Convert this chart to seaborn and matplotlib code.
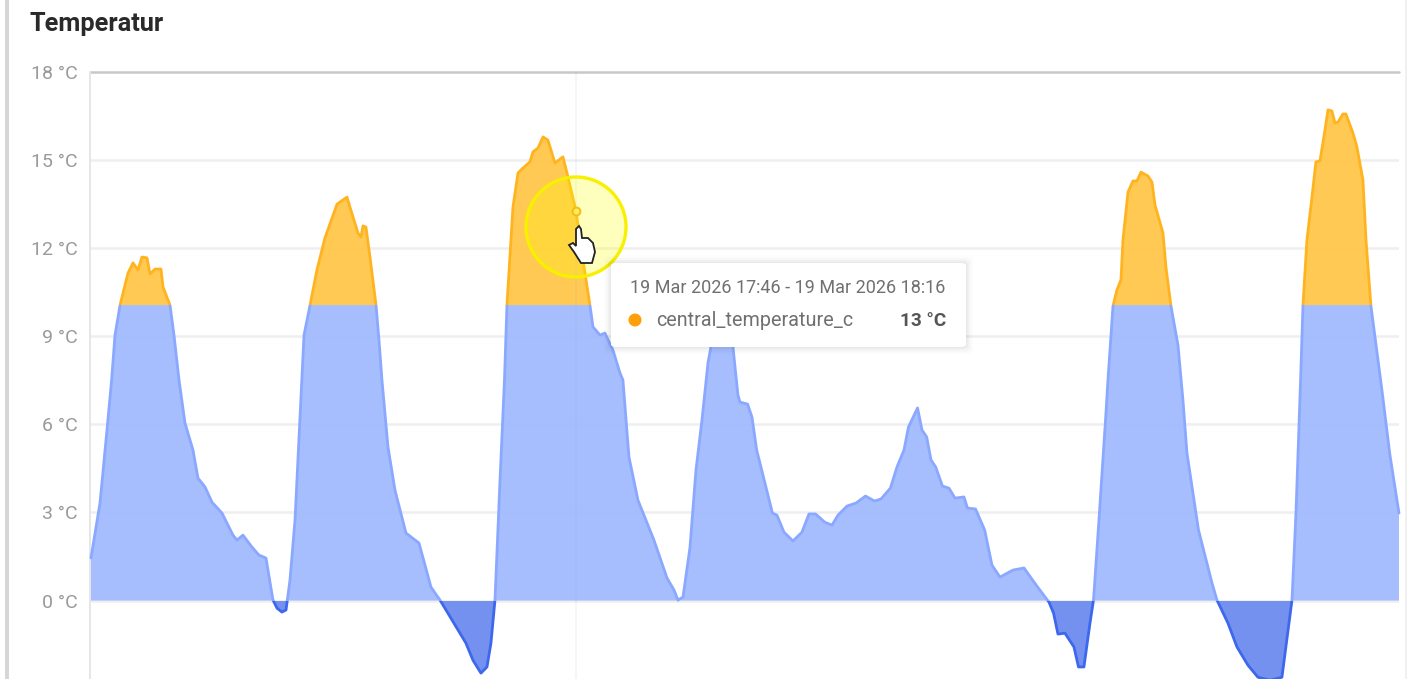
import numpy as np
import pandas as pd
import matplotlib
matplotlib.use("Agg")
import matplotlib.pyplot as plt
from matplotlib.patches import Rectangle, FancyBboxPatch, Ellipse, Polygon
import seaborn as sns

# hours since 17 Mar 2026 07:00
hours = [
    0, 1.09, 1.94, 2.5, 2.91, 3.52, 4.48, 5.09, 5.7, 6.18, 6.79, 7.15, 7.76, 8.48, 8.73, 9.58,
    10.06, 10.67, 11.39, 12.36, 12.97, 13.82, 14.67, 15.88, 17.21, 17.7, 18.42, 19.52, 20.36, 21.21,
    22.06, 22.55, 23.15, 23.64, 24.12, 24.73, 25.45, 25.82, 26.55, 27.39, 28.36, 29.82, 31.03, 31.39,
    32.36, 32.73, 32.97, 33.33, 33.82, 34.55, 34.91, 35.27, 36.0, 36.85, 38.18, 39.76, 41.21, 42.3,
    43.03, 45.45, 46.3, 47.27, 48.0, 48.48, 48.97, 49.58, 50.12, 50.42, 51.15, 51.76, 52.24, 53.21,
    53.58, 54.18, 54.79, 55.39, 56.24, 57.21, 57.82, 58.79, 59.64, 60.48, 60.85, 61.7, 62.3, 63.27,
    64.12, 64.48, 65.21, 66.3, 68.24, 69.82, 70.67, 71.15, 71.76, 72.61, 73.33, 74.06, 74.79, 75.52,
    76.48, 77.21, 77.82, 78.42, 78.67, 79.59, 80.12, 80.69, 82.3, 82.6, 83.15, 84.0, 85.09, 86.18,
    87.03, 87.83, 88.94, 89.82, 90.55, 91.64, 92.73, 93.88, 94.97, 95.76, 96.9, 97.7, 98.55, 99.09,
    100.19, 100.73, 101.3, 101.82, 102.39, 103.21, 104.0, 104.73, 105.82, 106.24, 107.22, 108.33,
    109.21, 110.18, 111.76, 113.09, 114.75, 116.12, 116.68, 117.21, 118.06, 119.15, 119.7, 120.36,
    121.09, 121.52, 122.18, 123.03, 123.27, 123.88, 124.36, 124.85, 125.09, 125.7, 126.3, 126.79,
    127.27, 128.12, 128.61, 128.97, 129.94, 130.3, 130.91, 131.76, 132.36, 132.85, 134.25, 135.88,
    136.48, 137.82, 138.91, 140.24, 141.45, 142.91, 144.36, 145.21, 145.58, 146.06, 146.62, 146.91,
    147.39, 148.0, 148.48, 148.97, 149.58, 149.94, 150.42, 150.79, 151.15, 151.76, 152.12, 152.97,
    153.45, 154.18, 154.55, 155.15, 155.64, 156.48, 157.45, 158.55,
]
temps = [
    1.45, 3.32, 5.81, 7.51, 9.04, 10.06, 11.15, 11.5, 11.26, 11.7, 11.67, 11.12, 11.29, 11.29, 10.68, 10.06,
    9.04, 7.51, 6.05, 5.13, 4.17, 3.87, 3.35, 2.98, 2.23, 2.06, 2.23, 1.82, 1.55, 1.45,
    0.02, -0.26, -0.39, -0.32, 0.7, 2.74, 6.93, 9.04, 10.06, 11.26, 12.35, 13.5, 13.74, 13.4,
    12.52, 12.38, 12.76, 12.72, 11.7, 10.06, 8.87, 7.51, 5.23, 3.76, 2.3, 1.96, 0.46, 0.02,
    -0.32, -1.45, -2.03, -2.47, -2.26, -1.45, 0.02, 4.1, 7.51, 10.06, 13.4, 14.56, 14.7, 14.94,
    15.28, 15.41, 15.79, 15.68, 14.9, 15.11, 14.42, 13.27, 11.6, 10.06, 9.32, 9.04, 9.11, 8.53,
    7.75, 7.51, 4.89, 3.42, 2.06, 0.77, 0.36, 0.02, 0.12, 1.82, 4.44, 6.15, 8.1, 9.2,
    9.7, 9.1, 8.63, 7.0, 6.76, 6.69, 6.25, 5.13, 3.32, 2.98, 2.91, 2.33, 2.03, 2.33,
    2.95, 2.95, 2.67, 2.57, 2.91, 3.22, 3.32, 3.56, 3.39, 3.46, 3.83, 4.55, 5.13, 5.91,
    6.56, 5.81, 5.57, 4.79, 4.55, 3.9, 3.83, 3.49, 3.53, 3.15, 3.12, 2.4,
    1.21, 0.8, 1.04, 1.11, 0.46, -0.05, -0.43, -1.14, -1.11, -1.58, -2.26, -2.26,
    -0.77, 0.02, 2.74, 6.39, 7.51, 10.03, 10.58, 10.92, 12.28, 13.91, 14.29, 14.29,
    14.59, 14.46, 14.25, 13.47, 12.52, 11.36, 10.03, 8.7, 6.83, 5.02, 2.4, 0.6,
    0.02, -0.77, -1.58, -2.2, -2.61, -2.71, -2.61, -0.77, 0.02, 2.98, 7.51, 10.06,
    12.28, 13.74, 14.94, 14.97, 16.03, 16.71, 16.67, 16.26, 16.3, 16.57, 16.57, 15.92,
    15.45, 14.32, 12.28, 10.03, 8.97, 7.17, 4.96, 2.98,
]
y_ticks = [0, 3, 6, 9, 12, 15, 18]
bands = [(-3, 0), (0, 10.05), (10.05, 18)]
line_colors = ["#3d68ec", "#8aa8ff", "#ffb41f"]
fill_colors = ["#6f8eef", "#a3bcfd", "#ffc84d"]
tooltip_time = "19 Mar 2026 17:46 - 19 Mar 2026 18:16"
tooltip_name = "central_temperature_c"
tooltip_value = "13 °C"
hover_hour = 58.79
hover_temp = 13.27

sns.set_theme(style="white")
plt.rcParams["font.family"] = ["Roboto", "DejaVu Sans"]

W, H = 1411, 679


def fx(px):
    return px / W


def fy(py):
    return 1 - py / H


df = pd.DataFrame({"hour": hours, "temp": temps})

fig = plt.figure(figsize=(W / 100, H / 100), dpi=100, facecolor="white")
ax = fig.add_axes([fx(90), 0, fx(1399) - fx(90), fy(72)])

for (low, high), line_col, fill_col in zip(bands, line_colors, fill_colors):
    base = min(max(0, low), high)
    inside = (df["temp"] < base) if high <= 0 else (df["temp"] > base)
    fill = ax.fill_between(df["hour"], base, df["temp"], where=inside, interpolate=True, color=fill_col,
                           lw=0, zorder=2, alpha=0.97)
    fill.set_clip_path(Rectangle((-1, low), 170, high - low, transform=ax.transData))
    sns.lineplot(data=df, x="hour", y="temp", ax=ax, color=line_col, lw=2.0, estimator=None,
                 sort=False, zorder=3)
    ax.lines[-1].set_clip_path(Rectangle((-1, low), 170, high - low, transform=ax.transData))

ax.set_xlim(-0.12, 158.55)
ax.set_ylim(-2.67, 18)
ax.set_xlabel("")
ax.set_ylabel("")
ax.set_xticks([])
ax.set_yticks(y_ticks)
ax.set_yticklabels([f"{t} °C" for t in y_ticks], color="#9a9a9a", fontsize=14)
ax.tick_params(axis="y", length=0, pad=9)
for t in y_ticks[:-1]:
    ax.axhline(t, color="#efefef", lw=1.8, zorder=1)
ax.axhline(18, color="#c8c8c8", lw=1.8, zorder=1, clip_on=False)
for s in ["top", "right", "bottom"]:
    ax.spines[s].set_visible(False)
ax.spines["left"].set_color("#e6e6e6")
ax.spines["left"].set_linewidth(1.4)

# crosshair
ax.axvline(hover_hour, color="#8ea6f0", alpha=0.12, lw=1.2, zorder=4)

# window edges of the screenshot
fig.add_artist(Rectangle((fx(5), 0), 4 / W, 1, transform=fig.transFigure, color="#d6d6d6", lw=0))
fig.add_artist(Rectangle((fx(1405), 0), 1.5 / W, 1, transform=fig.transFigure, color="#f0f0f0", lw=0))

fig.text(fx(30), fy(24), "Temperatur", fontsize=18.3, fontweight="bold", color="#2a2a2a",
         va="center", ha="left")

# yellow highlight round the pointer
fig.add_artist(Ellipse((fx(576), fy(227)), 100 / W, 100 / H, transform=fig.transFigure,
                       facecolor=(1, 1, 0, 0.26), edgecolor="#f7f000", lw=2.4, zorder=5))
ax.scatter([hover_hour], [hover_temp], s=32, facecolor="#ffe680", edgecolor="#f2a51c", lw=1.4, zorder=6,
           clip_on=False)

# tooltip, soft shadow first
for grow, alpha in [(7, 0.012), (5, 0.018), (3, 0.025), (1.5, 0.03)]:
    fig.add_artist(FancyBboxPatch((fx(611 - grow), fy(347 + grow)), (355 + 2 * grow) / W, (84 + 2 * grow) / H,
                                  boxstyle="round,pad=0,rounding_size=0.005", transform=fig.transFigure,
                                  facecolor=(0, 0, 0, alpha), edgecolor="none", zorder=7))
fig.add_artist(FancyBboxPatch((fx(611), fy(347)), 355 / W, 84 / H, boxstyle="round,pad=0,rounding_size=0.004",
                              transform=fig.transFigure, facecolor="white", edgecolor="none", zorder=8))
fig.text(fx(630), fy(288), tooltip_time, fontsize=13, color="#707070", va="center", ha="left", zorder=9)
fig.text(fx(656), fy(321), tooltip_name, fontsize=14.2, color="#707070", va="center", ha="left", zorder=9)
fig.text(fx(946), fy(321), tooltip_value, fontsize=13.7, fontweight="bold", color="#555555", va="center",
         ha="right", zorder=9)
fig.add_artist(Ellipse((fx(635), fy(320)), 13 / W, 13 / H, transform=fig.transFigure, facecolor="#ff9f0a",
                       edgecolor="none", zorder=9))

# hand pointer
hand = [(576, 229), (579, 226), (581, 229), (582, 238), (588, 238), (593, 243), (595, 252), (592, 263),
        (581, 263), (574, 252), (569, 245), (573, 243), (576, 246)]
fig.add_artist(Polygon([(fx(x), fy(y)) for x, y in hand], closed=True, transform=fig.transFigure,
                       facecolor="white", edgecolor="#222222", lw=1.3, zorder=6))

fig.savefig("out.png", dpi=100)
